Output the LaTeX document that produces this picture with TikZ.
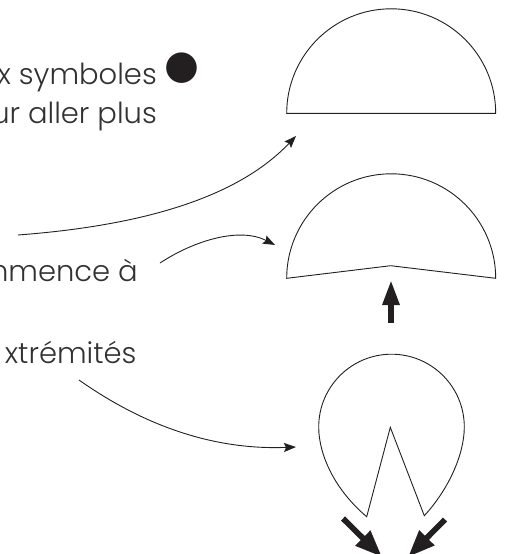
\documentclass[tikz,border=0pt]{standalone}
\usepackage{fontspec}
\setmainfont{Poppins}[UprightFont=* Light]
\newfontfamily\symfont{DejaVu Sans}
\usetikzlibrary{arrows.meta}
\definecolor{ink}{RGB}{35,31,32}
\definecolor{txt}{RGB}{50,50,50}
\tikzset{
  shapeline/.style={draw=ink, line width=0.9pt, line join=miter},
  thinarrow/.style={draw=ink, line width=0.9pt, -{Stealth[length=12pt,width=9pt,inset=2pt]}},
  bigarrow/.style={draw=ink, line width=5.7pt, -{Triangle[length=25pt,width=16pt]}},
  label/.style={text=txt, inner sep=0pt, font=\fontsize{29}{39}\selectfont},
}
\begin{document}
\begin{tikzpicture}[x=1pt,y=1pt]
\useasboundingbox (0,0) rectangle (506,-554);
\clip (0,0) rectangle (506,-554);
% texts
\node[label, anchor=base east] (t1) at (157,-84) {x symboles};
\node[text=ink, inner sep=0pt, font=\symfont\fontsize{40}{40}\selectfont] (dot) at (181.7,-68.3) {●};
\node[label, anchor=base east] (t2) at (157,-123) {ur aller plus};
\node[label, anchor=base east] (t3) at (138,-281.7) {mmence à};
\node[label, anchor=base east] (t4) at (136.7,-363.3) {xtrémités};
% shapes
\draw[shapeline] (286.7,-113.3) arc[start angle=180,end angle=0,radius=104.5] -- cycle;
\draw[shapeline] (286.7,-278.3) arc[start angle=180,end angle=0,radius=104.5] -- (390.7,-265.7) -- cycle;
\draw[shapeline] (366.7,-516.7) .. controls (335,-490) and (318.7,-455) .. (318.7,-427)
  arc[start angle=180,end angle=0,radius=72.8]
  .. controls (464.3,-455) and (448,-490) .. (424.3,-515.7) -- (390.3,-427.3) -- cycle;
% coordinates
\coordinate (a1s) at (18,-235);
\coordinate (a1e) at (296,-136);
\coordinate (a2s) at (160,-263);
\coordinate (a2e) at (275,-245);
\coordinate (a3s) at (79,-380);
\coordinate (a3e) at (296,-447);
\coordinate (ups) at (391,-322.5);
\coordinate (upe) at (391,-280);
\coordinate (bls) at (343,-518.5);
\coordinate (ble) at (382,-557);
\coordinate (brs) at (445,-519.5);
\coordinate (bre) at (408,-557);
% thin arrows
\draw[thinarrow] (a1s) .. controls (150,-225) and (240,-195) .. (a1e);
\draw[thinarrow] (a2s) .. controls (195,-240) and (240,-227) .. (a2e);
\draw[thinarrow] (a3s) .. controls (150,-430) and (220,-450) .. (a3e);
% thick arrows
\draw[bigarrow] (ups) -- (upe);
\draw[bigarrow, -{Triangle[length=27pt,width=20pt]}] (bls) -- (ble);
\draw[bigarrow, -{Triangle[length=27pt,width=20pt]}] (brs) -- (bre);
\end{tikzpicture}
\end{document}
